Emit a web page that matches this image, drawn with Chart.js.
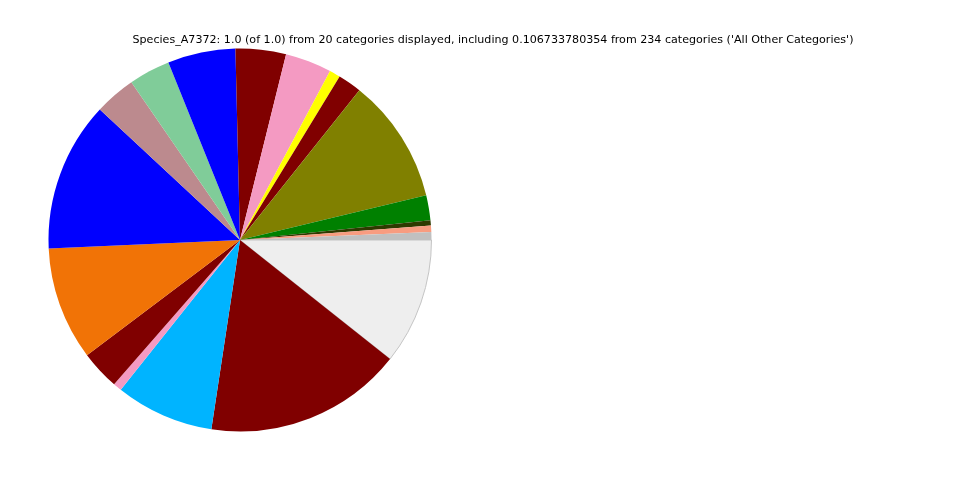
<!DOCTYPE html>
<html>
<head>
<meta charset="utf-8">
<script src="https://cdn.jsdelivr.net/npm/chart.js@4"></script>
<style>
  html, body { margin: 0; padding: 0; background: #ffffff; }
  #wrap { width: 960px; height: 480px; }
</style>
</head>
<body>
<div id="wrap"><canvas id="pieChart" width="960" height="480"></canvas></div>
<script>
// ----------------------
//  DATA (matplotlib order: counter-clockwise from 3 o'clock)
// ----------------------
const chartTitle = "Species_A7372: 1.0 (of 1.0) from 20 categories displayed, including 0.106733780354 from 234 categories ('All Other Categories')";

const categories = [
    'Cat 1', 'Cat 2', 'Cat 3', 'Cat 4', 'Cat 5', 'Cat 6', 'Cat 7', 'Cat 8', 'Cat 9', 'Cat 10',
    'Cat 11', 'Cat 12', 'Cat 13', 'Cat 14', 'Cat 15', 'Cat 16', 'Cat 17', 'Cat 18', 'All Other Categories'
];
const shares = [
    0.0067, 0.0053, 0.0045, 0.0210, 0.1054, 0.0200, 0.0092, 0.0392, 0.0425, 0.0572,
    0.0350, 0.0347, 0.1264, 0.0956, 0.0331, 0.0072, 0.0831, 0.1672, 0.1067
];
const sliceColors = [
    '#c0c0c0', '#f89c80', '#2f3a00', '#008000', '#808000', '#800000', '#ffff00', '#f49ac2', '#800000', '#0000ff',
    '#80cc99', '#bc8a8e', '#0000ff', '#f17306', '#800000', '#f49ac2', '#00b4ff', '#800000', '#eeeeee'
];

// Chart.js draws clockwise, so reverse and start at 3 o'clock
const labelsRev = categories.slice().reverse();
const sharesRev = shares.slice().reverse();
const colorsRev = sliceColors.slice().reverse();
const bordersRev = colorsRev.map(function (c, i) { return i === 0 ? 1 : 0; });

// ----------------------
//  TITLE PLUGIN
// ----------------------
const titlePlugin = {
    id: 'plainTitle',
    afterDraw: function (chart) {
        const c = chart.ctx;
        c.save();
        c.font = '11.1px "DejaVu Sans"';
        c.fillStyle = '#000000';
        c.textAlign = 'center';
        c.textBaseline = 'middle';
        c.fillText(chartTitle, 493, 40);
        c.restore();
    }
};

// ----------------------
//  CHART
// ----------------------
const ctx = document.getElementById('pieChart').getContext('2d');
const pieChart = new Chart(ctx, {
    type: 'pie',
    data: {
        labels: labelsRev,
        datasets: [{
            data: sharesRev,
            backgroundColor: colorsRev,
            borderColor: '#c4c4c4',
            borderWidth: bordersRev,
            hoverOffset: 0,
        }]
    },
    options: {
        responsive: false,
        animation: false,
        rotation: 90,
        layout: {
            padding: { left: 48, top: 48, right: 528, bottom: 48 }
        },
        plugins: {
            legend: { display: false },
            tooltip: { enabled: false },
        }
    },
    plugins: [titlePlugin]
});
</script>
</body>
</html>
